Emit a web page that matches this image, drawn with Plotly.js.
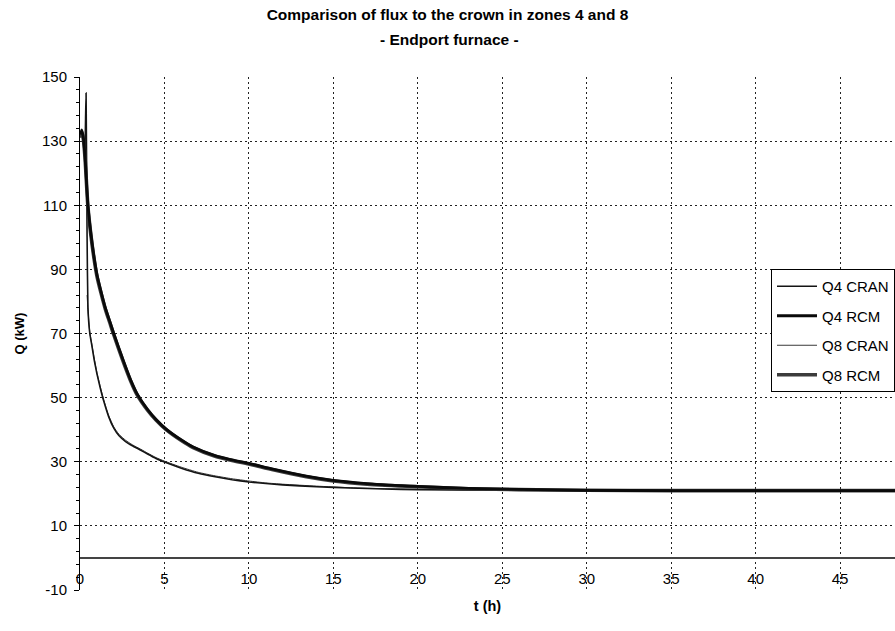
<!DOCTYPE html>
<html>
<head>
<meta charset="utf-8">
<script src="https://cdn.plot.ly/plotly-3.0.1.min.js"></script>
<style>html,body{margin:0;padding:0;background:#fff;}#chart{width:895px;height:631px;}</style>
</head>
<body>
<div id="chart"></div>
<script>
// ---- data ----
const tCRAN4 = [0.30, 0.33, 0.36, 0.42, 0.47, 0.58, 0.71, 0.85, 1.0, 1.2, 1.4, 1.7, 2.0, 2.3, 2.7, 3.1, 3.6, 4.0, 4.5, 5.0, 6.0, 7.0, 8.0, 9.0, 10, 11, 12, 14, 16, 18, 20, 25, 30, 35, 40, 45, 48.3];
const q4CRAN = [128, 137, 145, 100, 78, 70, 66, 61.5, 57.5, 53, 49, 44, 40.5, 38.2, 36.3, 35, 33.6, 32.4, 31, 29.9, 28, 26.4, 25.3, 24.4, 23.7, 23.2, 22.8, 22.2, 21.8, 21.5, 21.3, 21.1, 21, 21, 21, 21, 21];
const tCRAN8 = [0.42, 0.47, 0.58, 0.71, 0.85, 1.0, 1.2, 1.4, 1.7, 2.0, 2.3, 2.7, 3.1, 3.6, 4.0, 4.5, 5.0, 6.0, 7.0, 8.0, 9.0, 10, 11, 12, 14, 16, 18, 20, 25, 30, 35, 40, 45, 48.3];
const q8CRAN = [82, 77.5, 70.5, 66.4, 62, 57.9, 53.4, 49.4, 44.4, 40.9, 38.6, 36.7, 35.3, 33.9, 32.7, 31.3, 30.2, 28.3, 26.7, 25.6, 24.7, 24.0, 23.4, 23.0, 22.4, 21.9, 21.6, 21.4, 21.1, 21, 21, 21, 21, 21];
const tRCM = [0.05, 0.1, 0.2, 0.3, 0.47, 0.65, 0.8, 1.0, 1.25, 1.5, 1.75, 2.0, 2.5, 3.0, 3.4, 4.0, 4.5, 5.1, 6.0, 6.7, 8.0, 9.0, 10, 11.5, 13.4, 15, 17, 20, 23, 26, 30, 35, 40, 45, 48.3];
const q4RCM = [132, 133.5, 131, 125, 110, 101, 95, 88.5, 83, 78, 74, 70, 62.5, 55.5, 51, 46.3, 43.2, 40.2, 36.8, 34.6, 31.9, 30.6, 29.5, 27.6, 25.5, 24.2, 23.2, 22.3, 21.7, 21.4, 21.1, 21, 21, 21, 21];
const q8RCM = [131, 133, 130.5, 124.5, 109.5, 100.5, 94.5, 88, 82.5, 77.6, 73.6, 69.6, 62.1, 55.2, 50.7, 46.1, 43.0, 40.0, 36.6, 34.4, 31.7, 30.4, 29.3, 27.4, 25.3, 24.0, 23.0, 22.2, 21.6, 21.3, 21.1, 21, 21, 21, 21];
const seriesNames = ["Q4 CRAN", "Q4 RCM", "Q8 CRAN", "Q8 RCM"];
const yTickVals = [-10, 10, 30, 50, 70, 90, 110, 130, 150];
const yTickText = ["-10", "10", "30", "50", "70", "90", "110", "130", "150"];
const titleLine1 = "Comparison of flux to the crown in zones 4 and 8";
const titleLine2 = "- Endport furnace -";
const xTitle = "t (h)";
const yTitle = "Q (kW)";

const FONT = "Liberation Sans, Arial, sans-serif";

const traces = [
  {x: tCRAN8, y: q8CRAN, name: seriesNames[2], legendgroup: "g3", legendrank: 3, mode: "lines",
   line: {color: "#3a3a3a", width: 1, shape: "spline", smoothing: 0.6}},
  {x: tCRAN4, y: q4CRAN, name: seriesNames[0], legendgroup: "g1", legendrank: 1, mode: "lines",
   line: {color: "#141414", width: 1.6, shape: "spline", smoothing: 0.4}},
  {x: tRCM, y: q8RCM, name: seriesNames[3], legendgroup: "g4", legendrank: 4, mode: "lines",
   line: {color: "#3c3c3c", width: 3.6, shape: "spline", smoothing: 0.8}},
  {x: tRCM, y: q4RCM, name: seriesNames[1], legendgroup: "g2", legendrank: 2, mode: "lines",
   line: {color: "#0a0a0a", width: 2.8, shape: "spline", smoothing: 0.8}}
];

const gridStyle = {showgrid: true, gridcolor: "#222", gridwidth: 1, griddash: "2px,3px"};

const layout = {
  width: 895, height: 631,
  margin: {l: 80, r: 0, t: 77, b: 41},
  paper_bgcolor: "#fff", plot_bgcolor: "#fff",
  font: {family: FONT, color: "#000", size: 15},
  showlegend: true,
  title: {
    text: titleLine1,
    font: {family: FONT, size: 15.5, weight: "bold", color: "#000"},
    xref: "container", x: 0.5, xanchor: "center",
    yref: "container", y: 1 - 15 / 631, yanchor: "middle"
  },
  annotations: [{
    text: titleLine2, showarrow: false,
    font: {family: FONT, size: 15.5, weight: "bold", color: "#000"},
    xref: "paper", x: (449 - 80) / 815, xanchor: "center",
    yref: "paper", y: (590 - 40) / 513, yanchor: "middle"
  }],
  xaxis: Object.assign({
    range: [0, 48.25], tick0: 0, dtick: 5,
    zeroline: false, showline: false, ticks: "",
    ticklabelposition: "inside", ticklabeloverflow: "allow",
    tickfont: {family: FONT, size: 15, color: "#000"},
    title: {text: xTitle, font: {family: FONT, size: 14.5, weight: "bold", color: "#000"}, standoff: 14}
  }, gridStyle),
  yaxis: Object.assign({
    range: [-10, 150], tickmode: "array", tickvals: yTickVals, ticktext: yTickText,
    zeroline: true, zerolinecolor: "#444", zerolinewidth: 1.5,
    showline: true, linecolor: "#000", linewidth: 1,
    ticks: "outside", ticklen: 5, tickcolor: "#000", tickwidth: 1,
    minor: {tick0: -10, dtick: 4, ticks: "outside", ticklen: 3, tickcolor: "#000", showgrid: false},
    ticklabelstandoff: 4,
    tickfont: {family: FONT, size: 15, color: "#000"},
    title: {text: yTitle, font: {family: FONT, size: 13, weight: "bold", color: "#000"}, standoff: 14}
  }, gridStyle),
  legend: {
    x: (771 - 80) / 815, xanchor: "left",
    y: (590 - 269) / 513, yanchor: "top",
    bgcolor: "#fff", bordercolor: "#000", borderwidth: 1,
    font: {family: FONT, size: 15, color: "#000"},
    itemwidth: 40,
    traceorder: "grouped", tracegroupgap: 7
  }
};

Plotly.newPlot("chart", traces, layout, {displayModeBar: false, staticPlot: true});
</script>
</body>
</html>
